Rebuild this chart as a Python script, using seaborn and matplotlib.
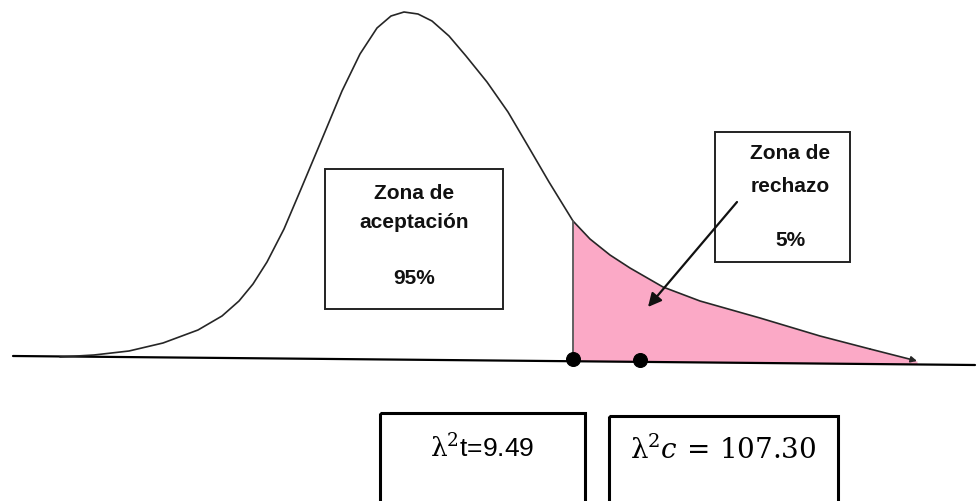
import numpy as np
import matplotlib
matplotlib.use("Agg")
import matplotlib.pyplot as plt
from matplotlib.patches import Rectangle
import seaborn as sns

sns.set_theme(style="white")
plt.rcParams['font.family'] = ['Liberation Sans', 'DejaVu Sans']
plt.rcParams['mathtext.fontset'] = 'dejavuserif'

# curva chi-cuadrado (pixeles)
curva_x = [60, 94, 129, 163, 198, 222, 239, 253, 267, 284, 301, 322, 342,
           360, 377, 391, 404, 418, 432, 449, 466, 487, 508, 528, 549, 573,
           590, 610, 630, 663, 700, 760, 820, 870, 917]
curva_y = [358, 356, 352, 344, 331, 317, 302, 285, 263, 230, 190, 140, 92,
           55, 29, 17, 13, 15, 22, 37, 57, 83, 113, 147, 183, 222,
           240, 256, 269, 288, 302, 319, 337, 350, 362]
eje_x = [13, 975]
eje_y = [357, 366]
puntos_x = [573, 640]
x_critico = 573
zona_aceptacion = ["Zona de", "aceptación", "95%"]
zona_rechazo = ["Zona de", "rechazo", "5%"]
valor_t = r"$\mathrm{\lambda}^2$t=9.49"
valor_c = r"$\mathrm{\lambda}^2c\, =\, 107.30$"

cx = np.array(curva_x, dtype=float)
cy = np.array(curva_y, dtype=float)

fig = plt.figure(figsize=(9.78, 5.02), dpi=100)
ax = fig.add_axes([0, 0, 1, 1])
ax.set_xlim(0, 978)
ax.set_ylim(502, 0)
ax.axis('off')

# zona de rechazo rellena
cola = cx >= x_critico
base_cola = np.interp(cx[cola], eje_x, eje_y)
ax.fill_between(cx[cola], cy[cola], base_cola, color='#fba9c6', lw=0, zorder=1)

# eje horizontal
sns.lineplot(x=eje_x, y=eje_y, ax=ax, color='black', lw=1.6, zorder=3)

# curva
sns.lineplot(x=cx[:-1], y=cy[:-1], ax=ax, sort=False, color='#262626', lw=1.2, zorder=4)
ax.annotate('', xy=(cx[-1], cy[-1]), xytext=(cx[-2], cy[-2]),
            arrowprops=dict(arrowstyle='-|>', color='#262626', lw=1.2,
                            mutation_scale=9, shrinkA=0, shrinkB=0), zorder=4)

# linea del valor critico
y_top = np.interp(x_critico, cx, cy)
y_bot = np.interp(x_critico, eje_x, eje_y)
ax.plot([x_critico, x_critico], [y_top, y_bot], color='#555555', lw=1.3, zorder=4)

# puntos sobre el eje
sns.scatterplot(x=puntos_x, y=np.interp(puntos_x, eje_x, eje_y) - 2, ax=ax,
                color='black', s=100, edgecolor='black', zorder=6)

# cuadro zona de aceptacion
ax.add_patch(Rectangle((325, 170), 178, 140, fill=True, fc='white',
                       ec='#222222', lw=1.4, zorder=5))
for txt, yy in zip(zona_aceptacion, [194, 223, 279]):
    ax.text(414, yy, txt, ha='center', va='center', fontsize=15,
            fontweight='bold', color='#111111', zorder=6)

# cuadro zona de rechazo
ax.add_patch(Rectangle((715, 133), 135, 130, fill=True, fc='white',
                       ec='#222222', lw=1.4, zorder=5))
for txt, yy in zip(zona_rechazo, [154, 187, 241]):
    ax.text(790, yy, txt, ha='center', va='center', fontsize=15,
            fontweight='bold', color='#111111', zorder=6)

# flecha hacia la zona de rechazo
ax.annotate('', xy=(648, 308), xytext=(737, 203),
            arrowprops=dict(arrowstyle='-|>', color='#111111', lw=1.6,
                            mutation_scale=20, shrinkA=0, shrinkB=0), zorder=7)

# cuadros inferiores (se salen por abajo)
ax.add_patch(Rectangle((380, 414), 205, 100, fill=False, ec='black', lw=2.2,
                       zorder=5, clip_on=True))
ax.text(482, 448, valor_t, ha='center', va='center', fontsize=19, color='black')
ax.add_patch(Rectangle((609, 417), 229, 100, fill=False, ec='black', lw=2.2,
                       zorder=5, clip_on=True))
ax.text(723, 450, valor_c, ha='center', va='center', fontsize=20, color='black')

fig.savefig('out.png', dpi=100)
